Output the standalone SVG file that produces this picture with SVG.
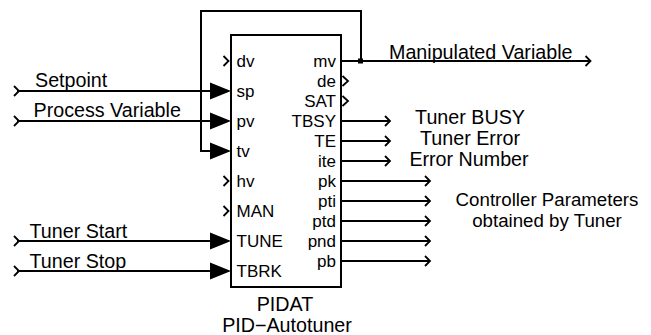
<svg xmlns="http://www.w3.org/2000/svg" width="651" height="335" viewBox="0 0 651 335">
<style>
.ln{fill:none;stroke:#000;stroke-width:2}
.ch{fill:none;stroke:#000;stroke-width:1.8}
.tri{fill:#000;stroke:none}
.pl{font-family:"Liberation Sans",Arial,sans-serif;font-size:17px;fill:#000}
.lb{font-family:"Liberation Sans",Arial,sans-serif;font-size:19.7px;fill:#000}
.cp{font-size:18.7px}
</style>
<rect width="651" height="335" fill="#fff"/>
<g id="block">
<rect x="231" y="35" width="110" height="252" class="ln"/>
<g class="pl">
<text x="236.5" y="67">dv</text>
<text x="236.5" y="97">sp</text>
<text x="236.5" y="127">pv</text>
<text x="236.5" y="157">tv</text>
<text x="236.5" y="187">hv</text>
<text x="236.5" y="217">MAN</text>
<text x="236.5" y="247">TUNE</text>
<text x="236.5" y="277">TBRK</text>
</g>
<g class="pl" text-anchor="end">
<text x="336" y="67">mv</text>
<text x="336" y="87">de</text>
<text x="336" y="107">SAT</text>
<text x="336" y="127">TBSY</text>
<text x="336" y="147">TE</text>
<text x="336" y="167">ite</text>
<text x="336" y="187">pk</text>
<text x="336" y="207">pti</text>
<text x="336" y="227">ptd</text>
<text x="336" y="247">pnd</text>
<text x="336" y="267">pb</text>
</g>
<g class="lb" text-anchor="middle">
<text x="285" y="311">PIDAT</text>
<text x="287" y="332">PID−Autotuner</text>
</g>
</g>
<g id="connectors">
<path class="ln" d="M17,91 H211 M17,121 H211 M17,241 H211 M17,271 H211"/>
<path class="ch" d="M14,86 L19,91 L14,96 M14,116 L19,121 L14,126 M14,236 L19,241 L14,246 M14,266 L19,271 L14,276"/>
<path class="tri" d="M210,82.5 L231,91 L210,99.5 Z M210,112.5 L231,121 L210,129.5 Z M210,142.5 L231,151 L210,159.5 Z M210,232.5 L231,241 L210,249.5 Z M210,262.5 L231,271 L210,279.5 Z"/>
<path class="ch" d="M223.5,56 L228.5,61 L223.5,66 M223.5,176 L228.5,181 L223.5,186 M223.5,206 L228.5,211 L223.5,216"/>
<path class="ln" d="M361,61 V11 H201 V151 H211"/>
<rect x="358" y="58.5" width="5" height="5" fill="#000"/>
<path class="ln" d="M341,61 H590"/>
<path class="ch" d="M585.5,56 L590.5,61 L585.5,66"/>
<path class="ch" d="M342.5,76 L348,81 L342.5,86 M342.5,96 L348,101 L342.5,106"/>
<path class="ln" d="M341,121 H390 M341,141 H390 M341,161 H390"/>
<path class="ch" d="M385,116 L390,121 L385,126 M385,136 L390,141 L385,146 M385,156 L390,161 L385,166"/>
<path class="ln" d="M341,181 H430 M341,201 H430 M341,221 H430 M341,241 H430 M341,261 H430"/>
<path class="ch" d="M425,176 L430,181 L425,186 M425,196 L430,201 L425,206 M425,216 L430,221 L425,226 M425,236 L430,241 L425,246 M425,256 L430,261 L425,266"/>
</g>
<g id="labels" class="lb">
<text x="35" y="87">Setpoint</text>
<text x="33.5" y="117">Process Variable</text>
<text x="29.5" y="238">Tuner Start</text>
<text x="29.5" y="267.5">Tuner Stop</text>
<text x="389" y="58.5">Manipulated Variable</text>
<g text-anchor="middle">
<text x="470" y="123.5">Tuner BUSY</text>
<text x="470" y="145">Tuner Error</text>
<text x="469" y="165.5">Error Number</text>
<text class="cp" x="547" y="206">Controller Parameters</text>
<text class="cp" x="547" y="226.5">obtained by Tuner</text>
</g>
</g>
</svg>
